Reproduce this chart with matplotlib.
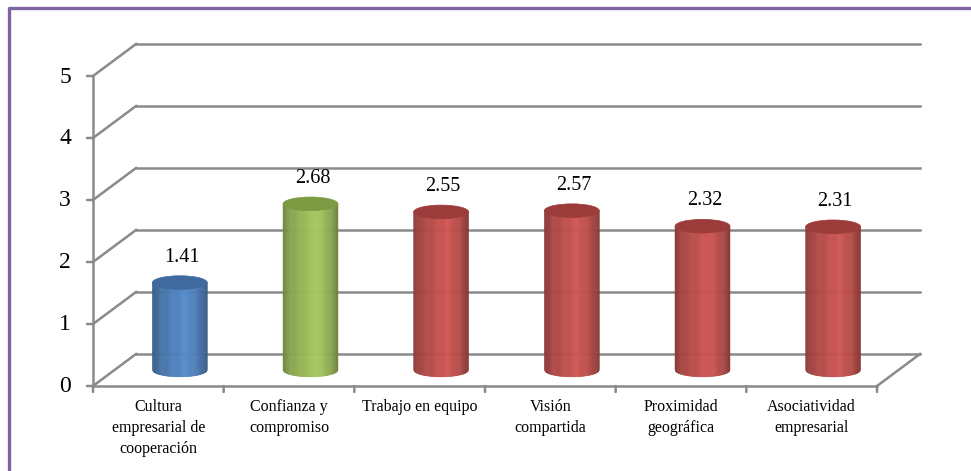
import numpy as np
import matplotlib
matplotlib.use("Agg")
import matplotlib.pyplot as plt
from matplotlib import transforms
from matplotlib.collections import PolyCollection
from matplotlib.patches import Ellipse
from matplotlib.colors import to_rgb

categories = ["Cultura\nempresarial de\ncooperación", "Confianza y\ncompromiso",
              "Trabajo en equipo", "Visión\ncompartida", "Proximidad\ngeográfica",
              "Asociatividad\nempresarial"]
values = [1.41, 2.68, 2.55, 2.57, 2.32, 2.31]
bar_colors = ["#4F81BD", "#9BBB59", "#C0504D", "#C0504D", "#C0504D", "#C0504D"]
top_colors = ["#3E6AA0", "#7C9A42", "#9C3C3A", "#9C3C3A", "#9C3C3A", "#9C3C3A"]
yticks = [0, 1, 2, 3, 4, 5]

W, H = 971, 471
GRID = "#8A8A8A"
LW = 1.8
SERIF = ["Liberation Serif", "DejaVu Serif"]

fig = plt.figure(figsize=(W / 100, H / 100), dpi=100)
ax = fig.add_axes([93 / W, (H - 386) / H, (877 - 93) / W, (386 - 76) / H])
ax.set_xlim(-0.5, len(values) - 0.5)
ax.set_ylim(0, 5)
ax.axis("off")

# depth offsets (pixels) for the back wall and the middle plane where the cylinders stand
back = transforms.offset_copy(ax.transData, fig=fig, x=43, y=32, units="dots")
mid = transforms.offset_copy(ax.transData, fig=fig, x=21.5, y=16, units="dots")
x0, x1 = -0.5, len(values) - 0.5


def depth_line(x, v):
    # segment from the front plane to the back wall at (x, v)
    xa, ya = ax.transData.transform((x, v))
    xb, yb = back.transform((x, v))
    pts = fig.transFigure.inverted().transform([[xa, ya], [xb, yb]])
    ax.plot(pts[:, 0], pts[:, 1], color=GRID, lw=LW, transform=fig.transFigure,
            clip_on=False, zorder=1)


# back wall gridlines and side-wall diagonals
for v in yticks:
    ax.plot([x0, x1], [v, v], color=GRID, lw=LW, transform=back, clip_on=False, zorder=1)
    depth_line(x0, v)
depth_line(x1, 0)

# front axes lines and ticks
ax.plot([x0, x0], [0, 5], color=GRID, lw=LW, clip_on=False, zorder=2)
ax.plot([x0, x1], [0, 0], color=GRID, lw=LW, clip_on=False, zorder=2)
for v in yticks:
    ax.annotate("", xy=(x0, v), xytext=(-6, 0), textcoords="offset pixels",
                arrowprops=dict(arrowstyle="-", color=GRID, lw=LW, shrinkA=0, shrinkB=0))
    ax.annotate(str(v), xy=(x0, v), xytext=(-22, -1), textcoords="offset pixels",
                ha="right", va="center", fontsize=17, family=SERIF)
for b in np.arange(x0, x1 + 0.01, 1.0):
    ax.annotate("", xy=(b, 0), xytext=(0, -6), textcoords="offset pixels",
                arrowprops=dict(arrowstyle="-", color=GRID, lw=LW, shrinkA=0, shrinkB=0))
for i, lab in enumerate(categories):
    ax.annotate(lab, xy=(i, 0), xytext=(0, -13), textcoords="offset pixels",
                ha="center", va="top", fontsize=11.5, family=SERIF, linespacing=1.4)


def shade(t):
    # darker at both edges, highlight a little right of centre
    return np.interp(t, [0, 0.15, 0.62, 0.85, 1], [0.72, 0.88, 1.08, 0.92, 0.7])


bw, eh = 0.42, 0.22
n = 60
for i, (v, c, tc) in enumerate(zip(values, bar_colors, top_colors)):
    base = np.array(to_rgb(c))
    xs = np.linspace(i - bw / 2, i + bw / 2, n + 1)
    ybot = -eh / 2 * np.sqrt(np.clip(1 - ((xs - i) / (bw / 2)) ** 2, 0, 1))
    polys, cols = [], []
    for k in range(n):
        polys.append([(xs[k], v), (xs[k], ybot[k]), (xs[k + 1], ybot[k + 1]), (xs[k + 1], v)])
        t = (k + 0.5) / n
        cols.append(np.clip(base * shade(t), 0, 1))
    pc = PolyCollection(polys, facecolors=cols, edgecolors=cols, linewidths=0.4,
                        transform=mid, zorder=3, clip_on=False)
    ax.add_collection(pc)
    ax.add_patch(Ellipse((i, v), bw, eh, facecolor=tc, edgecolor=tc, lw=0.5,
                         transform=mid, zorder=4, clip_on=False))
    ax.annotate(f"{v:.2f}", xy=(i, v), xycoords=mid, xytext=(2, 16), textcoords="offset pixels",
                ha="center", va="bottom", fontsize=14.5, family=SERIF, zorder=5)

ax.set_xlim(-0.5, len(values) - 0.5)
ax.set_ylim(0, 5)

# purple frame around the chart area
fig.add_artist(plt.Line2D([8.5 / W, 8.5 / W, 1], [0, 1 - 8 / H, 1 - 8 / H],
                          color="#8064A2", lw=2.4, transform=fig.transFigure))

fig.savefig("out.png", dpi=100)
